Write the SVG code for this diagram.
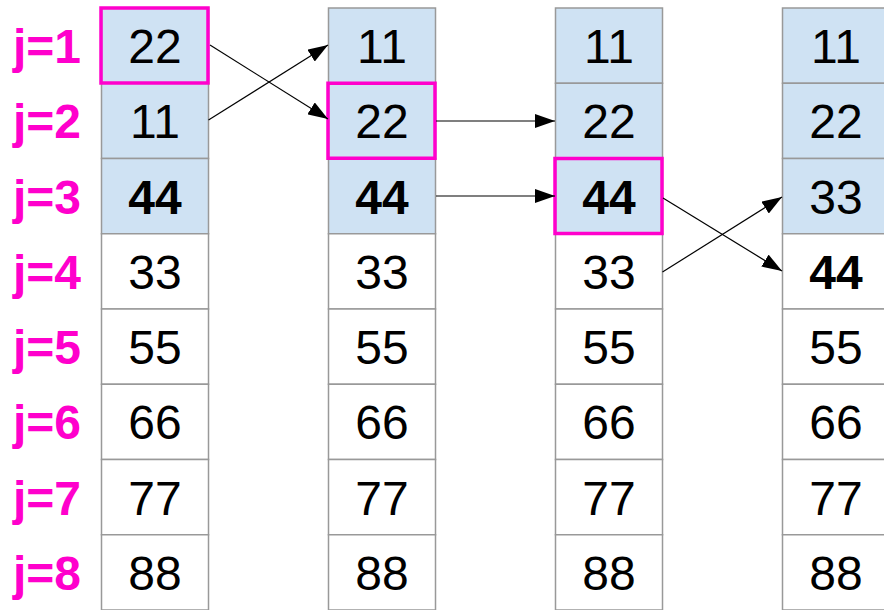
<svg xmlns="http://www.w3.org/2000/svg" width="884" height="610" viewBox="0 0 884 610">
<style>
.c{fill:#fff;stroke:#999;stroke-width:1.5}
.b{fill:#cfe2f3;stroke:#999;stroke-width:1.5}
.t{font-family:"Liberation Sans",Arial,sans-serif;font-size:48px;text-anchor:middle;fill:#000}
.tb{font-weight:bold}
.j{font-family:"Liberation Sans",Arial,sans-serif;font-size:48px;font-weight:bold;fill:#ff00cc}
.hl{fill:none;stroke:#ff00cc;stroke-width:3.5}
.a{stroke:#000;stroke-width:1.2;fill:none;marker-end:url(#ah)}
</style>
<defs>
<marker id="ah" markerWidth="20" markerHeight="14" refX="20" refY="7" orient="auto" markerUnits="userSpaceOnUse">
<path d="M0,0 L20,7 L0,14 z" fill="#000"/>
</marker>
</defs>
<rect width="884" height="610" fill="#fff"/>
<g id="labels">
<text class="j" x="13" y="63">j=1</text>
<text class="j" x="13" y="138.25">j=2</text>
<text class="j" x="13" y="213.5">j=3</text>
<text class="j" x="13" y="288.75">j=4</text>
<text class="j" x="13" y="364">j=5</text>
<text class="j" x="13" y="439.25">j=6</text>
<text class="j" x="13" y="514.5">j=7</text>
<text class="j" x="13" y="589.75">j=8</text>
</g>
<g id="col1">
<rect class="b" x="101.5" y="8" width="107" height="75.25"/>
<rect class="b" x="101.5" y="83.25" width="107" height="75.25"/>
<rect class="b" x="101.5" y="158.5" width="107" height="75.25"/>
<rect class="c" x="101.5" y="233.75" width="107" height="75.25"/>
<rect class="c" x="101.5" y="309" width="107" height="75.25"/>
<rect class="c" x="101.5" y="384.25" width="107" height="75.25"/>
<rect class="c" x="101.5" y="459.5" width="107" height="75.25"/>
<rect class="c" x="101.5" y="534.75" width="107" height="75.25"/>
<text class="t" x="155" y="63">22</text>
<text class="t" x="155" y="138.25">11</text>
<text class="t tb" x="155" y="213.5">44</text>
<text class="t" x="155" y="288.75">33</text>
<text class="t" x="155" y="364">55</text>
<text class="t" x="155" y="439.25">66</text>
<text class="t" x="155" y="514.5">77</text>
<text class="t" x="155" y="589.75">88</text>
<rect class="hl" x="101" y="8" width="107" height="75"/>
</g>
<g id="col2">
<rect class="b" x="328.5" y="8" width="107" height="75.25"/>
<rect class="b" x="328.5" y="83.25" width="107" height="75.25"/>
<rect class="b" x="328.5" y="158.5" width="107" height="75.25"/>
<rect class="c" x="328.5" y="233.75" width="107" height="75.25"/>
<rect class="c" x="328.5" y="309" width="107" height="75.25"/>
<rect class="c" x="328.5" y="384.25" width="107" height="75.25"/>
<rect class="c" x="328.5" y="459.5" width="107" height="75.25"/>
<rect class="c" x="328.5" y="534.75" width="107" height="75.25"/>
<text class="t" x="382" y="63">11</text>
<text class="t" x="382" y="138.25">22</text>
<text class="t tb" x="382" y="213.5">44</text>
<text class="t" x="382" y="288.75">33</text>
<text class="t" x="382" y="364">55</text>
<text class="t" x="382" y="439.25">66</text>
<text class="t" x="382" y="514.5">77</text>
<text class="t" x="382" y="589.75">88</text>
<rect class="hl" x="328" y="83.25" width="107" height="75"/>
</g>
<g id="col3">
<rect class="b" x="555.5" y="8" width="107" height="75.25"/>
<rect class="b" x="555.5" y="83.25" width="107" height="75.25"/>
<rect class="b" x="555.5" y="158.5" width="107" height="75.25"/>
<rect class="c" x="555.5" y="233.75" width="107" height="75.25"/>
<rect class="c" x="555.5" y="309" width="107" height="75.25"/>
<rect class="c" x="555.5" y="384.25" width="107" height="75.25"/>
<rect class="c" x="555.5" y="459.5" width="107" height="75.25"/>
<rect class="c" x="555.5" y="534.75" width="107" height="75.25"/>
<text class="t" x="609" y="63">11</text>
<text class="t" x="609" y="138.25">22</text>
<text class="t tb" x="609" y="213.5">44</text>
<text class="t" x="609" y="288.75">33</text>
<text class="t" x="609" y="364">55</text>
<text class="t" x="609" y="439.25">66</text>
<text class="t" x="609" y="514.5">77</text>
<text class="t" x="609" y="589.75">88</text>
<rect class="hl" x="555" y="158.5" width="107" height="75"/>
</g>
<g id="col4">
<rect class="b" x="782.5" y="8" width="107" height="75.25"/>
<rect class="b" x="782.5" y="83.25" width="107" height="75.25"/>
<rect class="b" x="782.5" y="158.5" width="107" height="75.25"/>
<rect class="c" x="782.5" y="233.75" width="107" height="75.25"/>
<rect class="c" x="782.5" y="309" width="107" height="75.25"/>
<rect class="c" x="782.5" y="384.25" width="107" height="75.25"/>
<rect class="c" x="782.5" y="459.5" width="107" height="75.25"/>
<rect class="c" x="782.5" y="534.75" width="107" height="75.25"/>
<text class="t" x="836" y="63">11</text>
<text class="t" x="836" y="138.25">22</text>
<text class="t" x="836" y="213.5">33</text>
<text class="t tb" x="836" y="288.75">44</text>
<text class="t" x="836" y="364">55</text>
<text class="t" x="836" y="439.25">66</text>
<text class="t" x="836" y="514.5">77</text>
<text class="t" x="836" y="589.75">88</text>
</g>
<g id="connectors">
<line class="a" x1="210" y1="45" x2="328" y2="119"/>
<line class="a" x1="208.5" y1="120" x2="328" y2="45"/>
<line class="a" x1="436" y1="121" x2="555" y2="121"/>
<line class="a" x1="436" y1="196" x2="555" y2="196"/>
<line class="a" x1="663" y1="198" x2="782" y2="271"/>
<line class="a" x1="662.5" y1="272" x2="782" y2="197"/>
</g>
</svg>
